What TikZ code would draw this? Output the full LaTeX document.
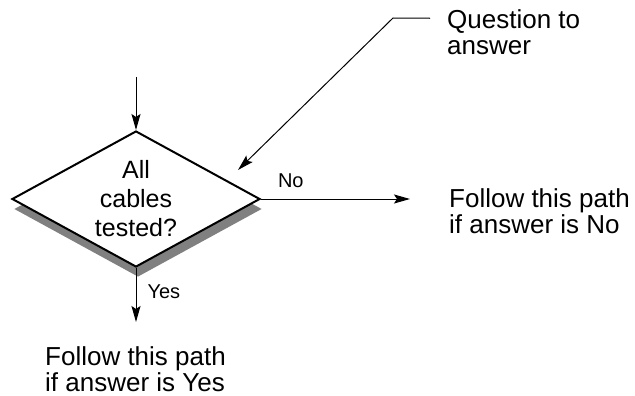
\documentclass[tikz,border=0pt]{standalone}
\usepackage{fontspec}
\setmainfont{Liberation Sans}
\usetikzlibrary{shapes.geometric, shadows, arrows.meta}

\begin{document}
\begin{tikzpicture}[x=1pt, y=-1pt,
        decision/.style={diamond, draw, line width=2pt, fill=white, inner sep=0pt,
            minimum width=248pt, minimum height=136pt, aspect=1.8, align=center,
            font=\fontsize{25}{29}\selectfont,
            drop shadow={shadow xshift=2pt, shadow yshift=-10pt, fill=black!50, opacity=1}},
        note/.style={inner sep=0pt, anchor=west, align=left, font=\fontsize{26}{26}\selectfont},
        small/.style={inner sep=0pt, font=\fontsize{20}{22}\selectfont},
        arrow/.style={-{Stealth[length=16pt, width=9pt, inset=3pt]}, line width=1pt}]

        \useasboundingbox (0,0) rectangle (635,396);

        % Decision
        \node[decision] (cables) at (136,199) {All\\cables\\tested?};

        % Texts
        \node[note] (question) at (447,32) {Question to\\answer};
        \node[note] (noPath) at (449,211) {Follow this path\\if answer is No};
        \node[note] (yesPath) at (45,369) {Follow this path\\if answer is Yes};

        % Free ends
        \coordinate (entry) at (136,77);
        \coordinate (noEnd) at (410,199);
        \coordinate (yesEnd) at (136,322);
        \coordinate (elbow) at (393,18);
        \coordinate (askTip) at (238,170);

        % Arrows
        \draw[arrow] (entry) -- (cables.north);
        \draw[arrow] (cables.east) -- node[small, pos=0.2, above=11pt] {No} (noEnd);
        \draw[arrow] (cables.south) -- node[small, pos=0.43, right=11pt] {Yes} (yesEnd);
        \draw[arrow] ([xshift=-17pt, yshift=-9pt]question.north west) -- (elbow) -- (askTip);

    \end{tikzpicture}
\end{document}
